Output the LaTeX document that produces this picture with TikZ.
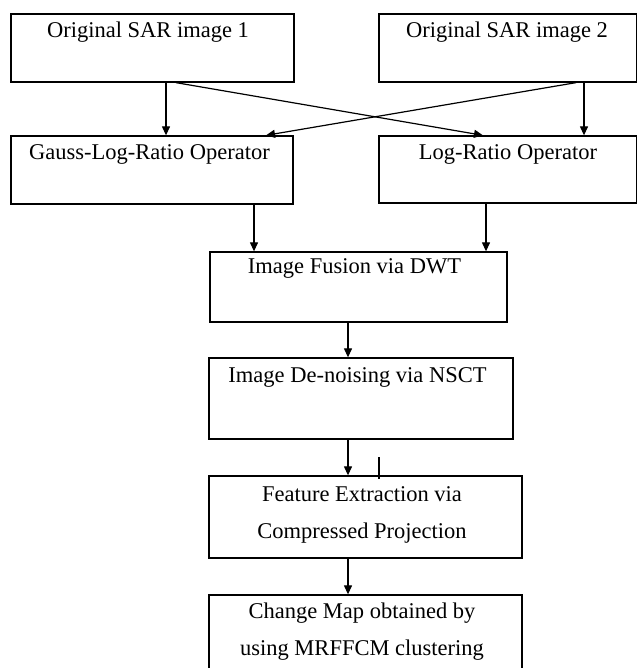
\documentclass[tikz,border=0pt]{standalone}
\usepackage{fontspec}
\setmainfont{Liberation Serif}
\usetikzlibrary{arrows.meta}
\begin{document}
\begin{tikzpicture}[x=1pt,y=-1pt,
  box/.style={draw=black,line width=1.3pt,rectangle,inner sep=0pt,anchor=center},
  lbl/.style={font=\fontsize{22.5}{37}\selectfont,inner sep=0pt,anchor=center,align=center},
  arr/.style={draw=black,line width=1.2pt,-{Triangle[length=9pt,width=8pt]}}]
% canvas
\fill[white] (0,0) rectangle (636,668);
\useasboundingbox (0,0) rectangle (636,668);

% boxes
\node[box,minimum width=283pt,minimum height=68pt] (b1) at (152.5,48) {};
\node[box,minimum width=258pt,minimum height=68pt] (b2) at (508,48) {};
\node[box,minimum width=282pt,minimum height=68pt] (gauss) at (152,170) {};
\node[box,minimum width=258pt,minimum height=67pt] (logr) at (508,169.5) {};
\node[box,minimum width=297pt,minimum height=70pt] (fus) at (358.5,287) {};
\node[box,minimum width=304pt,minimum height=81pt] (nsct) at (361,398.5) {};
\node[box,minimum width=313pt,minimum height=82pt] (feat) at (365.5,517) {};
\node[box,minimum width=313pt,minimum height=86pt] (chg) at (365.5,638) {};

% box texts
\node[lbl] (t1) at (148,32) {Original SAR image 1};
\node[lbl] (t2) at (507,32) {Original SAR image 2};
\node[lbl] (t3) at (149.5,154) {Gauss-Log-Ratio Operator};
\node[lbl] (t4) at (508,154) {Log-Ratio Operator};
\node[lbl] (t5) at (354.5,268) {Image Fusion via DWT};
\node[lbl] (t6) at (357.5,377) {Image De-noising via NSCT};
\node[lbl] (t7) at (362,514.5) {Feature Extraction via\\Compressed Projection};
\node[lbl] (t8) at (362,632) {Change Map obtained by\\using MRFFCM clustering};

% vertical guides for connectors
\coordinate (xa) at (166,0);
\coordinate (xb) at (584,0);
\coordinate (xc) at (176,0);
\coordinate (xd) at (483,0);
\coordinate (xe) at (576,0);
\coordinate (xf) at (266,0);
\coordinate (xg) at (254,0);
\coordinate (xh) at (486,0);
\coordinate (xm) at (348,0);

% connectors
\draw[arr] (b1.south -| xa) -- (gauss.north -| xa);
\draw[arr] (b2.south -| xb) -- (logr.north -| xb);
\draw[arr] (b1.south -| xc) -- (logr.north -| xd);
\draw[arr] (b2.south -| xe) -- (gauss.north -| xf);
\draw[arr] (gauss.south -| xg) -- (fus.north -| xg);
\draw[arr] (logr.south -| xh) -- (fus.north -| xh);
\draw[arr] (fus.south -| xm) -- (nsct.north -| xm);
\draw[arr] (nsct.south -| xm) -- (feat.north -| xm);
\draw[arr] (feat.south -| xm) -- (chg.north -| xm);

% short mark above the feature box
\coordinate (k1) at (379,457);
\coordinate (k2) at (379,479);
\draw[line width=2.4pt] (k1) -- (k2);
\end{tikzpicture}
\end{document}
